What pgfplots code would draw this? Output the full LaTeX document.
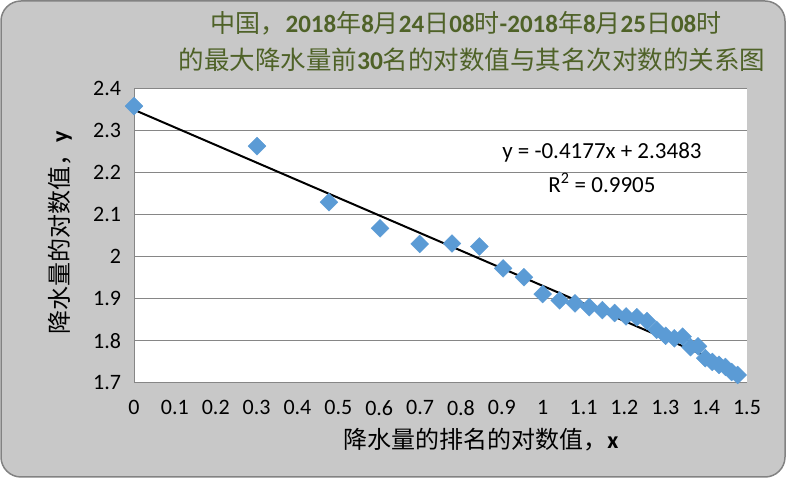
\documentclass[border=0pt]{standalone}
\usepackage{fontspec}
\setmainfont{Carlito}
\newfontfamily\cjk{Noto Sans CJK SC}
\usepackage{pgfplots}
\pgfplotsset{compat=1.18}
\definecolor{bg}{RGB}{200,200,200}
\definecolor{frame}{RGB}{130,130,130}
\definecolor{gridc}{RGB}{134,134,134}
\definecolor{mk}{RGB}{91,155,213}
\definecolor{tgreen}{RGB}{79,98,40}
\newcommand{\bd}[1]{{\rmfamily\bfseries #1}}
\pgfplotstableread{
x y
0.0000 2.357
0.3010 2.262
0.4771 2.129
0.6021 2.067
0.6990 2.030
0.7782 2.031
0.8451 2.024
0.9031 1.972
0.9542 1.951
1.0000 1.911
1.0414 1.896
1.0792 1.889
1.1139 1.880
1.1461 1.873
1.1761 1.866
1.2041 1.858
1.2304 1.856
1.2553 1.847
1.2788 1.826
1.3010 1.812
1.3222 1.806
1.3424 1.810
1.3617 1.785
1.3802 1.787
1.3979 1.759
1.4150 1.750
1.4314 1.743
1.4472 1.738
1.4624 1.726
1.4771 1.719
}\datatab
\begin{document}
\begin{tikzpicture}[x=1pt,y=1pt]
\useasboundingbox (0,0) rectangle (786,478);
\draw[fill=bg, draw=frame, line width=1.5pt, rounded corners=20pt] (1,1) rectangle (785,477);
\begin{axis}[
  at={(134pt,95pt)}, anchor=south west,
  scale only axis, width=613pt, height=295pt,
  xmin=0, xmax=1.5, ymin=1.7, ymax=2.4,
  xtick={0,0.1,0.2,0.3,0.4,0.5,0.6,0.7,0.8,0.9,1,1.1,1.2,1.3,1.4,1.5},
  ytick={1.7,1.8,1.9,2,2.1,2.2,2.3,2.4},
  /pgf/number format/fixed, /pgf/number format/precision=1,
  /pgf/number format/assume math mode=true,
  ticklabel style={font=\fontsize{22}{25}\selectfont},
  yticklabel style={xshift=-9.5pt},
  xticklabel style={yshift=-14pt},
  axis background/.style={fill=white},
  axis lines*=left, axis line style={-, draw=gridc, line width=1pt},
  ymajorgrids, grid style={gridc, line width=1pt},
  major tick length=0pt,
  clip=false,
]
\addplot[only marks, mark=square*, mark size=6.3pt, mark options={rotate=45, fill=mk, draw=mk}] table[x=x,y=y] {\datatab};
\addplot[black, line width=2pt] coordinates {(0,2.3483) (1.4771,1.7313)};
\node[font=\fontsize{23}{26}\selectfont] at (axis cs:1.145,2.246) {y = -0.4177x + 2.3483};
\node[font=\fontsize{23}{26}\selectfont] at (axis cs:1.145,2.174) {R\textsuperscript{2} = 0.9905};
\end{axis}
\node[text=tgreen, font=\cjk\fontsize{25}{28}\selectfont] at (466,455) {中国，\bd{2018}年\bd{8}月\bd{24}日\bd{08}时\bd{-2018}年\bd{8}月\bd{25}日\bd{08}时};
\node[text=tgreen, font=\cjk\fontsize{25.5}{28}\selectfont] at (472,418) {的最大降水量前\bd{30}名的对数值与其名次对数的关系图};
\node[font=\cjk\fontsize{24}{27}\selectfont] at (481,38) {降水量的排名的对数值，\bd{x}};
\node[font=\cjk\fontsize{24}{27}\selectfont, rotate=90] at (60,245) {降水量的对数值，\bd{y}};
\end{tikzpicture}
\end{document}
